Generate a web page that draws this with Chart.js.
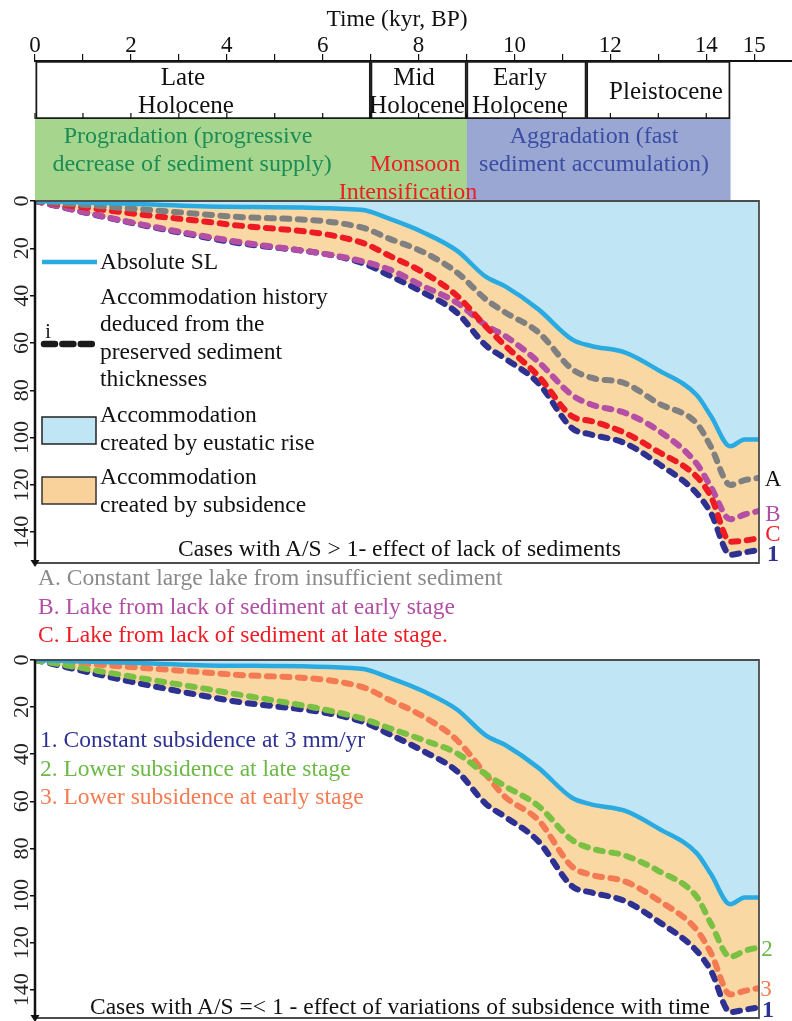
<!DOCTYPE html>
<html>
<head>
<meta charset="utf-8">
<script src="https://cdn.jsdelivr.net/npm/chart.js@4.4.1/dist/chart.umd.min.js"></script>
<style>
  html, body { margin: 0; padding: 0; background: #fff; }
  body { width: 792px; height: 1021px; position: relative; overflow: hidden;
         font-family: 'Liberation Serif', 'Times New Roman', serif; color: #111; }
  canvas { position: absolute; left: 0; }
  .t { position: absolute; white-space: nowrap; line-height: 1; }
  .c { transform: translate(-50%, -50%); }
  .l { transform: translateY(-50%); }
  svg { position: absolute; left: 0; top: 0; }
</style>
</head>
<body>
<canvas id="periodChart" style="top:0" width="792" height="120"></canvas>
<canvas id="processChart" style="top:119px" width="792" height="81"></canvas>
<canvas id="panelA" style="top:190px" width="792" height="385"></canvas>
<canvas id="panelB" style="top:645px" width="792" height="376"></canvas>

<svg width="792" height="1021">
  <line x1="42" y1="262" x2="97" y2="262" stroke="#29abe2" stroke-width="4.5"/>
  <line x1="44" y1="344" x2="94" y2="344" stroke="#1a1a1a" stroke-width="6.5" stroke-dasharray="11 7.4" stroke-linecap="round"/>
  <rect x="42" y="417" width="54" height="27" fill="#c0e5f5" stroke="#222" stroke-width="1.5"/>
  <rect x="42" y="477" width="54" height="27" fill="#f9d29b" stroke="#333" stroke-width="1.5"/>
</svg>

<!-- period boxes -->
<div class="t c" style="left:183px;top:76px;font-size:25px">Late</div>
<div class="t c" style="left:186px;top:104px;font-size:25px">Holocene</div>
<div class="t c" style="left:414px;top:76px;font-size:25px">Mid</div>
<div class="t c" style="left:417px;top:104px;font-size:25px">Holocene</div>
<div class="t c" style="left:520px;top:76px;font-size:25px">Early</div>
<div class="t c" style="left:520px;top:104px;font-size:25px">Holocene</div>
<div class="t c" style="left:666px;top:90px;font-size:25px">Pleistocene</div>

<!-- process bands -->
<div class="t c" style="left:188px;top:135px;font-size:24px;color:#1b8c54">Progradation (progressive</div>
<div class="t c" style="left:192px;top:163px;font-size:24px;color:#1b8c54">decrease of sediment supply)</div>
<div class="t c" style="left:594px;top:135px;font-size:24px;color:#3a4da3">Aggradation (fast</div>
<div class="t c" style="left:594px;top:163px;font-size:24px;color:#3a4da3">sediment accumulation)</div>
<div class="t c" style="left:415px;top:163px;font-size:24px;color:#ee1c25">Monsoon</div>
<div class="t c" style="left:408px;top:191px;font-size:24px;color:#ee1c25">Intensification</div>

<!-- panel A legend -->
<div class="t l" style="left:100px;top:262px;font-size:23.5px">Absolute SL</div>
<div class="t l" style="left:100px;top:297px;font-size:23.5px">Accommodation history</div>
<div class="t l" style="left:100px;top:324px;font-size:23.5px">deduced from the</div>
<div class="t l" style="left:100px;top:352px;font-size:23.5px">preserved sediment</div>
<div class="t l" style="left:100px;top:379px;font-size:23.5px">thicknesses</div>
<div class="t c" style="left:48px;top:331px;font-size:20px">i</div>
<div class="t l" style="left:100px;top:415px;font-size:23.5px">Accommodation</div>
<div class="t l" style="left:100px;top:443px;font-size:23.5px">created by eustatic rise</div>
<div class="t l" style="left:100px;top:477px;font-size:23.5px">Accommodation</div>
<div class="t l" style="left:100px;top:505px;font-size:23.5px">created by subsidence</div>
<div class="t l" style="left:178px;top:549px;font-size:23.5px">Cases with A/S &gt; 1- effect of lack of sediments</div>
<div class="t c" style="left:773px;top:478px;font-size:23px">A</div>
<div class="t c" style="left:773px;top:513px;font-size:23px;color:#b14fa5">B</div>
<div class="t c" style="left:773px;top:533px;font-size:23px;color:#ee1c25">C</div>
<div class="t c" style="left:773px;top:553px;font-size:24px;font-weight:bold;color:#2e3192">1</div>

<div class="t l" style="left:38px;top:578px;font-size:23.5px;color:#8a8a8a">A. Constant large lake from insufficient sediment</div>
<div class="t l" style="left:38px;top:607px;font-size:23.5px;color:#b14fa5">B. Lake from lack of sediment at early stage</div>
<div class="t l" style="left:38px;top:635px;font-size:23.5px;color:#ee1c25">C. Lake from lack of sediment at late stage.</div>

<!-- panel B legend -->
<div class="t l" style="left:40px;top:740px;font-size:23.5px;color:#2e3192">1. Constant subsidence at 3 mm/yr</div>
<div class="t l" style="left:40px;top:769px;font-size:23.5px;color:#6cb946">2. Lower subsidence at late stage</div>
<div class="t l" style="left:40px;top:797px;font-size:23.5px;color:#f47b52">3. Lower subsidence at early stage</div>
<div class="t l" style="left:90px;top:1007px;font-size:23.5px">Cases with A/S =&lt; 1 - effect of variations of subsidence with time</div>
<div class="t c" style="left:767px;top:948px;font-size:23px;color:#6cb946">2</div>
<div class="t c" style="left:766px;top:988px;font-size:23px;color:#f47b52">3</div>
<div class="t c" style="left:768px;top:1009px;font-size:24px;font-weight:bold;color:#2e3192">1</div>

<script>
// time axis (kyr BP)
const timeTicks = [0, 1, 2, 3, 4, 5, 6, 7, 8, 9, 10, 11, 12, 13, 14, 15];
const timeTickLabels = ['0', '', '2', '', '4', '', '6', '', '8', '', '10', '', '12', '', '14', '15'];

// chronology boxes
const periodNames = ['Late Holocene', 'Mid Holocene', 'Early Holocene', 'Pleistocene'];
const periodStart = [0, 7, 9, 11.5];
const periodEnd = [7, 9, 11.5, 14.5];

// depositional regime bands
const processNames = ['Progradation', 'Aggradation'];
const processStart = [0, 9];
const processEnd = [9, 14.5];

// depth curves (m), sampled at timeKyr
const timeKyr = [0, 2, 4, 6.8, 7.4, 8.1, 8.8, 9.4, 9.8, 10.5, 11.2, 11.6, 12.3, 13, 13.8, 14.1, 14.5, 14.8, 15.1];
const absoluteSL = [0, 1.2, 2.4, 3.7, 7.6, 13.3, 21, 32, 36, 45.8, 58.5, 61.3, 64, 71.5, 82, 91, 103.7, 100.8, 100.8];
const caseA = [0, 3.2, 6.4, 11.1, 16, 21.6, 30.2, 41.5, 47, 55.5, 71, 74.7, 77, 85.5, 94, 104, 120, 118, 117];
const caseB = [0, 9, 16.5, 25.3, 29, 36, 43, 52.5, 57, 68, 82, 86, 89.5, 97, 111, 121, 134.5, 132.5, 131];
const caseC = [0, 5.2, 9.8, 17.5, 23.2, 30.2, 40, 53, 61, 74, 91, 93, 98, 106, 116.5, 125, 144, 143.5, 142.5];
const case1 = [0, 9.2, 17, 26, 31.6, 38.7, 47.2, 61, 66.5, 77, 96, 98.7, 102.3, 111, 123.5, 132, 149.5, 148.5, 147.5];
const case2 = [0, 7, 13.8, 24.7, 29, 34, 39.6, 48.5, 53.5, 62, 76.4, 80, 83, 89.5, 100.5, 112, 126, 123.5, 122];
const case3 = [0, 3, 6, 11.3, 17, 24, 34, 48.5, 58, 68, 87.7, 91.2, 94, 102, 114.6, 124.5, 142, 140.5, 139.3];

const serif = "'Liberation Serif', 'Times New Roman', serif";
const X_MAX = 15.1;

const toPoints = (vals) => timeKyr.map((t, i) => ({ x: t, y: vals[i] }));

// extends the time axis line to the page edge and adds the little ticks under the boxes
const timelineExtras = {
  id: 'timelineExtras',
  afterDraw(chart) {
    const { ctx, chartArea: a, scales: { x } } = chart;
    ctx.save();
    ctx.strokeStyle = '#111';
    ctx.lineWidth = 2;
    ctx.beginPath();
    ctx.moveTo(a.right, a.top);
    ctx.lineTo(chart.width, a.top);
    ctx.stroke();
    ctx.lineWidth = 1.2;
    ctx.beginPath();
    timeTicks.filter((v) => v <= 14).forEach((v) => {
      const px = x.getPixelForValue(v);
      ctx.moveTo(px, a.bottom);
      ctx.lineTo(px, a.bottom - 6);
    });
    ctx.stroke();
    ctx.restore();
  },
};

new Chart(document.getElementById('periodChart'), {
  type: 'bar',
  data: {
    labels: ['period'],
    datasets: periodNames.map((name, i) => ({
      label: name,
      data: [[periodStart[i], periodEnd[i]]],
      backgroundColor: '#ffffff',
      borderColor: '#1a1a1a',
      borderWidth: 2,
      borderSkipped: false,
      barPercentage: 1,
      categoryPercentage: 1,
      grouped: false,
    })),
  },
  options: {
    indexAxis: 'y',
    responsive: false,
    animation: false,
    layout: { padding: { left: 35, right: 33, top: 0, bottom: 1 } },
    plugins: { legend: { display: false }, tooltip: { enabled: false } },
    scales: {
      x: {
        type: 'linear',
        position: 'top',
        min: 0,
        max: X_MAX,
        afterBuildTicks: (ax) => { ax.ticks = timeTicks.map((v) => ({ value: v })); },
        afterFit: (ax) => { ax.height = 61; },
        ticks: {
          autoSkip: false,
          maxRotation: 0,
          padding: -3,
          color: '#111',
          font: { family: serif, size: 23, lineHeight: 1 },
          callback: (v, i) => timeTickLabels[i],
        },
        grid: { drawOnChartArea: false, drawTicks: true, tickLength: 7, color: '#111', lineWidth: 1.2 },
        border: { display: true, color: '#111', width: 2 },
        title: {
          display: true,
          text: 'Time (kyr, BP)',
          color: '#111',
          font: { family: serif, size: 23.5, lineHeight: 1.2 },
          padding: { top: 6, bottom: 0 },
        },
      },
      y: { display: false },
    },
  },
  plugins: [timelineExtras],
});

new Chart(document.getElementById('processChart'), {
  type: 'bar',
  data: {
    labels: ['process'],
    datasets: processNames.map((name, i) => ({
      label: name,
      data: [[processStart[i], processEnd[i]]],
      backgroundColor: ['#a6d68e', '#9aa7d3'][i],
      borderWidth: 0,
      barPercentage: 1,
      categoryPercentage: 1,
      grouped: false,
    })),
  },
  options: {
    indexAxis: 'y',
    responsive: false,
    animation: false,
    layout: { padding: { left: 35, right: 33, top: 0, bottom: 0 } },
    plugins: { legend: { display: false }, tooltip: { enabled: false } },
    scales: {
      x: { type: 'linear', min: 0, max: X_MAX, display: false },
      y: { display: false },
    },
  },
});

// frame on top/right/bottom, left axis with a downward arrow
const panelFrame = {
  id: 'panelFrame',
  afterDraw(chart) {
    const { ctx, chartArea: a } = chart;
    ctx.save();
    ctx.strokeStyle = '#4d4d4d';
    ctx.lineWidth = 1.8;
    ctx.beginPath();
    ctx.moveTo(a.left, a.top);
    ctx.lineTo(a.right, a.top);
    ctx.lineTo(a.right, a.bottom);
    ctx.lineTo(a.left, a.bottom);
    ctx.stroke();
    ctx.strokeStyle = '#111';
    ctx.lineWidth = 2.5;
    ctx.beginPath();
    ctx.moveTo(a.left, a.top);
    ctx.lineTo(a.left, a.bottom);
    ctx.stroke();
    ctx.fillStyle = '#111';
    ctx.beginPath();
    ctx.moveTo(a.left - 4.5, a.bottom - 3);
    ctx.lineTo(a.left + 4.5, a.bottom - 3);
    ctx.lineTo(a.left, a.bottom + 4);
    ctx.closePath();
    ctx.fill();
    ctx.restore();
  },
};

const dashed = (vals, color) => ({
  data: toPoints(vals),
  borderColor: color,
  borderWidth: 6,
  borderDash: [7, 8.5],
  borderCapStyle: 'round',
  borderJoinStyle: 'round',
  pointRadius: 0,
  fill: false,
});

const slLine = () => ({
  data: toPoints(absoluteSL),
  borderColor: '#29abe2',
  borderWidth: 4.5,
  pointRadius: 0,
  fill: { value: 0 },
  backgroundColor: '#c0e5f5',
});

function makePanel(id, datasets, yMax, padTop, padBottom) {
  return new Chart(document.getElementById(id), {
    type: 'line',
    data: { datasets },
    options: {
      responsive: false,
      animation: false,
      layout: { padding: { left: 0, right: 33, top: padTop, bottom: padBottom } },
      elements: { line: { cubicInterpolationMode: 'monotone' } },
      plugins: {
        legend: { display: false },
        tooltip: { enabled: false },
        filler: { propagate: false, drawTime: 'beforeDatasetsDraw' },
      },
      scales: {
        x: { type: 'linear', min: 0, max: X_MAX, display: false },
        y: {
          type: 'linear',
          reverse: true,
          min: 0,
          max: yMax,
          afterFit: (ax) => { ax.width = 35; ax.paddingTop = 0; ax.paddingBottom = 0; },
          ticks: {
            stepSize: 20,
            includeBounds: false,
            minRotation: 90,
            maxRotation: 90,
            crossAlign: 'center',
            padding: -8.5,
            color: '#222',
            font: { family: serif, size: 22, lineHeight: 1 },
          },
          grid: { drawOnChartArea: false, drawTicks: true, tickLength: 5, color: '#111', lineWidth: 1.5 },
          border: { display: false },
        },
      },
    },
    plugins: [panelFrame],
  });
}

// upper panel: A/S > 1
const panelADatasets = [
  slLine(),
  dashed(caseA, '#808080'),
  dashed(caseC, '#ed1c24'),
  dashed(caseB, '#b54fa6'),
  Object.assign(dashed(case1, '#2e3192'), { fill: 0, backgroundColor: '#fad8a4' }),
];
makePanel('panelA', panelADatasets, 153, 11, 12);

// lower panel: A/S =< 1
const panelBDatasets = [
  slLine(),
  dashed(case2, '#7ac143'),
  dashed(case3, '#f37a53'),
  Object.assign(dashed(case1, '#2e3192'), { fill: 0, backgroundColor: '#fad8a4' }),
];
makePanel('panelB', panelBDatasets, 152, 15, 3);
</script>
</body>
</html>
